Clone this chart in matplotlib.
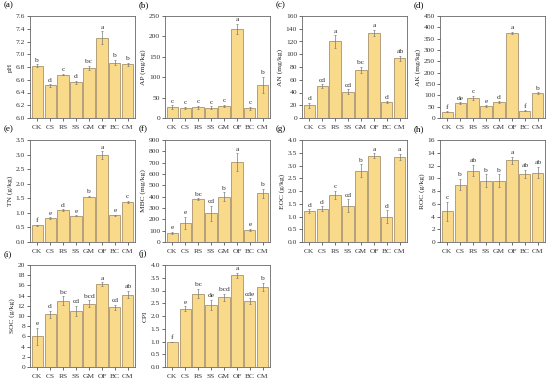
import matplotlib
matplotlib.use("Agg")
import matplotlib.pyplot as plt
import numpy as np

plt.rcParams['font.family'] = ['Liberation Serif', 'DejaVu Serif']

treatments = ["CK", "CS", "RS", "SS", "GM", "OF", "BC", "CM"]

ph = [6.82, 6.51, 6.68, 6.56, 6.79, 7.26, 6.87, 6.84]
ph_err = [0.02, 0.02, 0.01, 0.02, 0.03, 0.10, 0.04, 0.03]
ph_let = ["b", "d", "c", "d", "bc", "a", "b", "b"]

ap = [26, 24, 26, 25, 29, 219, 24, 81]
ap_err = [5, 3, 4, 4, 3, 12, 4, 20]
ap_let = ["c", "c", "c", "c", "c", "a", "c", "b"]

an = [20, 50, 120, 41, 75, 133, 25, 94]
an_err = [4, 3, 10, 4, 5, 5, 1, 4]
an_let = ["d", "cd", "a", "cd", "bc", "a", "d", "ab"]

ak = [28, 66, 88, 53, 71, 376, 32, 109]
ak_err = [1, 3, 10, 3, 3, 4, 2, 5]
ak_let = ["f", "de", "c", "e", "d", "a", "f", "b"]

tn = [0.57, 0.82, 1.10, 0.90, 1.56, 2.98, 0.92, 1.38]
tn_err = [0.03, 0.03, 0.02, 0.02, 0.02, 0.13, 0.02, 0.04]
tn_let = ["f", "e", "d", "e", "b", "a", "e", "c"]

mbc = [80, 170, 378, 252, 398, 705, 105, 430]
mbc_err = [10, 55, 8, 70, 40, 80, 10, 40]
mbc_let = ["e", "e", "bc", "cd", "b", "a", "e", "b"]

eoc = [1.20, 1.30, 1.85, 1.42, 2.80, 3.38, 1.00, 3.35]
eoc_err = [0.08, 0.10, 0.15, 0.25, 0.25, 0.10, 0.25, 0.12]
eoc_let = ["d", "d", "c", "cd", "b", "a", "d", "a"]

roc = [4.8, 9.0, 11.2, 9.6, 9.6, 12.8, 10.7, 10.9]
roc_err = [1.5, 0.9, 0.9, 1.0, 1.0, 0.6, 0.6, 0.9]
roc_let = ["c", "b", "ab", "b", "b", "a", "ab", "ab"]

soc = [6.0, 10.3, 13.0, 11.0, 12.4, 16.2, 11.7, 14.2]
soc_err = [1.7, 0.7, 0.9, 1.0, 0.7, 0.4, 0.5, 0.7]
soc_let = ["e", "d", "bc", "cd", "bcd", "a", "cd", "ab"]

cpi = [1.0, 2.28, 2.88, 2.44, 2.73, 3.60, 2.59, 3.15]
cpi_err = [0.0, 0.10, 0.18, 0.20, 0.15, 0.10, 0.10, 0.15]
cpi_let = ["f", "e", "bc", "de", "bcd", "a", "cde", "b"]

# (label, ylabel, values, errors, letters, ymin, ymax, ystep, tick format)
panels = [
    ("(a)", "pH", ph, ph_err, ph_let, 6.0, 7.6, 0.2, "{:.1f}"),
    ("(b)", "AP (mg/kg)", ap, ap_err, ap_let, 0, 250, 50, "{:.0f}"),
    ("(c)", "AN (mg/kg)", an, an_err, an_let, 0, 160, 20, "{:.0f}"),
    ("(d)", "AK (mg/kg)", ak, ak_err, ak_let, 0, 450, 50, "{:.0f}"),
    ("(e)", "TN (g/kg)", tn, tn_err, tn_let, 0, 3.5, 0.5, "{:.1f}"),
    ("(f)", "MBC (mg/kg)", mbc, mbc_err, mbc_let, 0, 900, 100, "{:.0f}"),
    ("(g)", "EOC (g/kg)", eoc, eoc_err, eoc_let, 0, 4.0, 0.5, "{:.1f}"),
    ("(h)", "ROC (g/kg)", roc, roc_err, roc_let, 0, 16, 2, "{:.0f}"),
    ("(i)", "SOC (g/kg)", soc, soc_err, soc_let, 0, 20, 2, "{:.0f}"),
    ("(j)", "CPI", cpi, cpi_err, cpi_let, 0, 4.0, 0.5, "{:.1f}"),
]

W, H = 550, 383
fig = plt.figure(figsize=(5.5, 3.83), dpi=100)

col_left = [30, 165, 302, 440]
row_top = [16, 140, 265]
ax_w, ax_h = 105, 102

fill = "#F9D98A"
edge = "#A89470"
fs = 5.4

for i, (lab, ylab, vals, errs, lets, y0, y1, ystep, fmt) in enumerate(panels):
    r, c = divmod(i, 4)
    left = col_left[c] / W
    bottom = 1 - (row_top[r] + ax_h) / H
    ax = fig.add_axes([left, bottom, ax_w / W, ax_h / H])
    x = np.arange(len(treatments))
    heights = [v - y0 for v in vals]
    ax.bar(x, heights, bottom=y0, width=0.86, color=fill,
           edgecolor=edge, linewidth=0.6, zorder=2)
    ax.errorbar(x, vals, yerr=errs, fmt="none", ecolor="#7a7a7a",
                elinewidth=0.5, capsize=1.0, capthick=0.5, zorder=3)
    span = y1 - y0
    for xi, v, e, l in zip(x, vals, errs, lets):
        ax.text(xi, v + e + span * 0.015, l, ha="center", va="bottom",
                fontsize=fs, color="#333333")
    ax.set_xlim(-0.55, 7.55)
    ax.set_ylim(y0, y1)
    yt = np.arange(y0, y1 + ystep / 2, ystep)
    ax.set_yticks(yt)
    ax.set_yticklabels([fmt.format(t) for t in yt])
    ax.set_xticks(x)
    ax.set_xticklabels(treatments)
    ax.tick_params(axis="both", labelsize=fs, length=2, width=0.5,
                   direction="out", pad=1.5, colors="#333333")
    ax.tick_params(axis="x", pad=3)
    ax.set_ylabel(ylab, fontsize=fs, labelpad=2, color="#222222")
    for sp in ax.spines.values():
        sp.set_linewidth(0.6)
        sp.set_color("#666666")
    ax.annotate(lab, xy=(0, 1), xycoords="axes fraction",
                xytext=(-26, 7), textcoords="offset pixels",
                fontsize=6.5, ha="left", va="bottom")

fig.savefig("out.png", dpi=100)
